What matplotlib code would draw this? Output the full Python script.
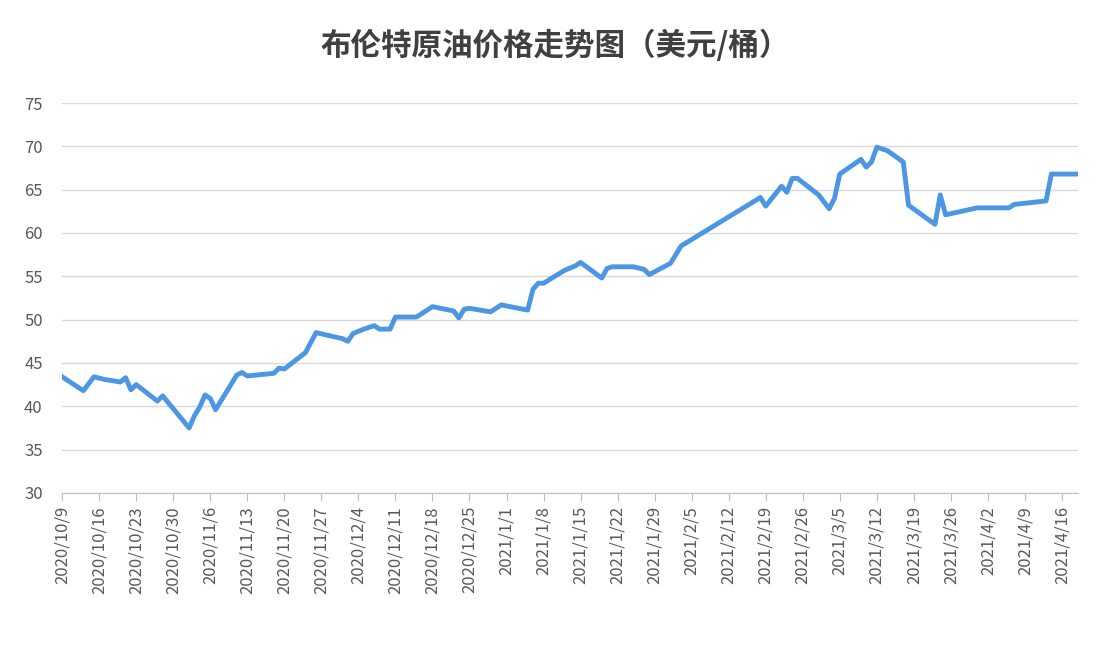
import matplotlib.pyplot as plt
import numpy as np
import datetime as dt

plt.rcParams['font.family'] = ['Noto Sans CJK SC', 'DejaVu Sans']

# days after 2020/10/9 and Brent price (USD/barrel)
days = [0, 4, 6, 8, 11, 12, 13, 14, 18, 19, 24, 25, 26, 27, 28, 29, 33, 34, 35,
        40, 41, 42, 46, 48, 53, 54, 55, 57, 59, 60, 62, 63, 67, 70, 74, 75, 76, 77,
        81, 83, 88, 89, 90, 91, 95, 97, 98, 102, 103, 104, 108, 110, 111, 115, 117,
        132, 133, 136, 137, 138, 139, 143, 145, 146, 147, 151, 152, 153, 154, 156,
        159, 160, 165, 166, 167, 173, 179, 180, 186, 187, 192]
price = [43.4, 41.8, 43.4, 43.1, 42.8, 43.3, 41.9, 42.5, 40.6, 41.2, 37.5, 38.9,
         39.9, 41.3, 40.9, 39.6, 43.6, 43.9, 43.5, 43.8, 44.4, 44.3, 46.2, 48.5,
         47.8, 47.5, 48.4, 48.9, 49.3, 48.9, 48.9, 50.3, 50.3, 51.5, 51.0, 50.2,
         51.2, 51.3, 50.9, 51.7, 51.1, 53.5, 54.2, 54.2, 55.7, 56.2, 56.6, 54.8,
         55.9, 56.1, 56.1, 55.8, 55.2, 56.5, 58.5, 64.1, 63.1, 65.4, 64.7, 66.3,
         66.3, 64.4, 62.8, 64.0, 66.8, 68.5, 67.6, 68.2, 69.9, 69.5, 68.2, 63.2,
         61.0, 64.4, 62.1, 62.9, 62.9, 63.3, 63.7, 66.8, 66.8]

start = dt.date(2020, 10, 9)
tick_days = list(range(0, 190, 7))
tick_labels = []
for d in tick_days:
    t = start + dt.timedelta(days=d)
    tick_labels.append(f"{t.year}/{t.month}/{t.day}")

fig = plt.figure(figsize=(11.1, 6.52), dpi=100)
ax = fig.add_axes([0.056, 0.244, 0.915, 0.598])
ax.plot(days, price, color='#4C97E3', linewidth=3.5, solid_joinstyle='round')

ax.set_xlim(0, 192)
ax.set_ylim(30, 75)
ax.set_yticks(range(30, 80, 5))
ax.set_xticks(tick_days)
ax.set_xticklabels(tick_labels, rotation=90)
ax.tick_params(axis='y', length=0, labelsize=12, colors='#595959', pad=14)
ax.tick_params(axis='x', length=6, color='#BFBFBF', labelsize=12, colors='#595959')
ax.grid(axis='y', color='#D9D9D9', linewidth=1)
ax.set_axisbelow(True)
for s in ['left', 'right', 'top']:
    ax.spines[s].set_visible(False)
ax.spines['bottom'].set_color('#BFBFBF')

fig.text(0.5, 0.93, '布伦特原油价格走势图（美元/桶）', ha='center', va='center',
         fontsize=22, fontweight='bold', color='#404040')

fig.savefig('out.png', dpi=100)
